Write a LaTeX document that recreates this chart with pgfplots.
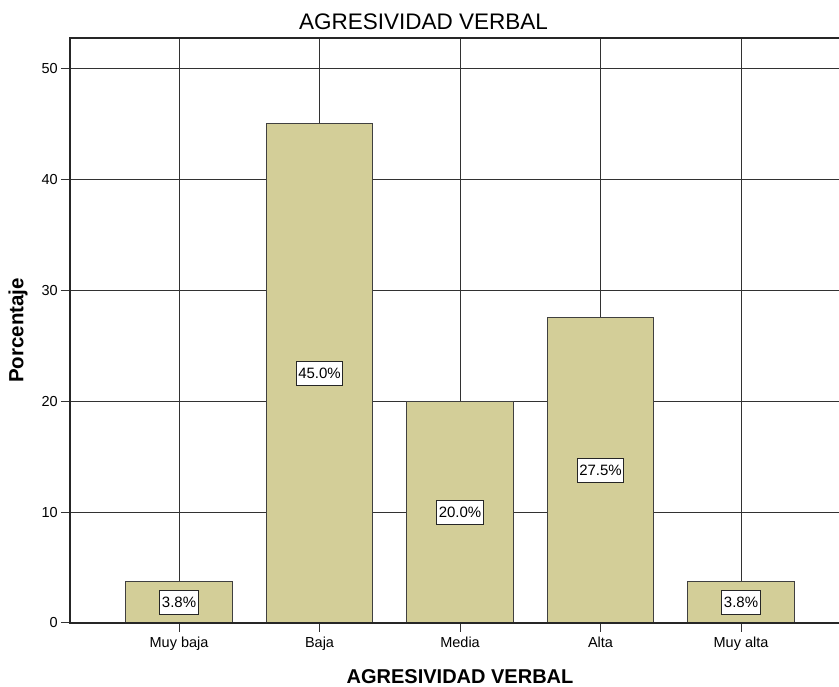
\documentclass[border=0pt]{standalone}
\usepackage{pgfplots}
\pgfplotsset{compat=1.18}
\usepackage{fontspec}
\setmainfont{Liberation Sans}
\definecolor{barfill}{RGB}{211,206,152}
\definecolor{gridcol}{RGB}{50,50,50}
\begin{document}
\begin{tikzpicture}
\begin{axis}[
    scale only axis,
    width=769pt, height=585pt,
    xmin=-0.776, xmax=4.697,
    ymin=0, ymax=52.73,
    clip=false,
    xtick={0,1,2,3,4},
    xticklabels={Muy baja,Baja,Media,Alta,Muy alta},
    ytick={0,10,20,30,40,50},
    tick pos=left,
    tick align=outside,
    major tick length=9pt,
    tick style={gridcol, line width=1pt},
    grid=major,
    major grid style={gridcol, line width=1pt},
    axis line style={draw=none},
    ybar, bar width=0.757,
    /pgf/number format/assume math mode=true,
    ticklabel style={font=\fontsize{14.5}{17}\selectfont},
    xticklabel style={anchor=base, yshift=-16pt},
    yticklabel style={anchor=east, inner sep=0pt, xshift=-3pt},
    title={AGRESIVIDAD VERBAL},
    title style={at={(axis description cs:0.4597,1.0051)}, anchor=base, font=\fontsize{22.5}{26}\selectfont},
    xlabel={AGRESIVIDAD VERBAL},
    xlabel style={at={(axis description cs:0.5072,-0.1026)}, anchor=base, font=\bfseries\fontsize{20}{24}\selectfont},
    ylabel={Porcentaje},
    ylabel style={at={(axis description cs:-0.0676,0.5)}, anchor=center, font=\bfseries\fontsize{20.5}{24}\selectfont},
    point meta=explicit symbolic,
    nodes near coords,
    visualization depends on={y \as \rawy},
    every node near coord/.append style={anchor=center,
        shift={(axis direction cs:0,-\rawy/2)},
        fill=white, draw=black!85, line width=1pt,
        inner xsep=2pt, inner ysep=0pt,
        text height=11pt, text depth=0pt, minimum height=24pt,
        font=\fontsize{15}{17}\selectfont},
]
\addplot[fill=barfill, draw=black!75, line width=1pt]
    coordinates {(0,3.75)[3.8\%] (1,45)[45.0\%] (2,20)[20.0\%] (3,27.5)[27.5\%] (4,3.75)[3.8\%]};
\draw[black!85, line width=1.3pt] (rel axis cs:1,1) -- (rel axis cs:0,1) -- (rel axis cs:0,0) -- (rel axis cs:1,0);
\end{axis}
\pgfresetboundingbox
\path[use as bounding box] (-70pt,-64pt) rectangle (769pt,623pt);
\end{tikzpicture}
\end{document}
